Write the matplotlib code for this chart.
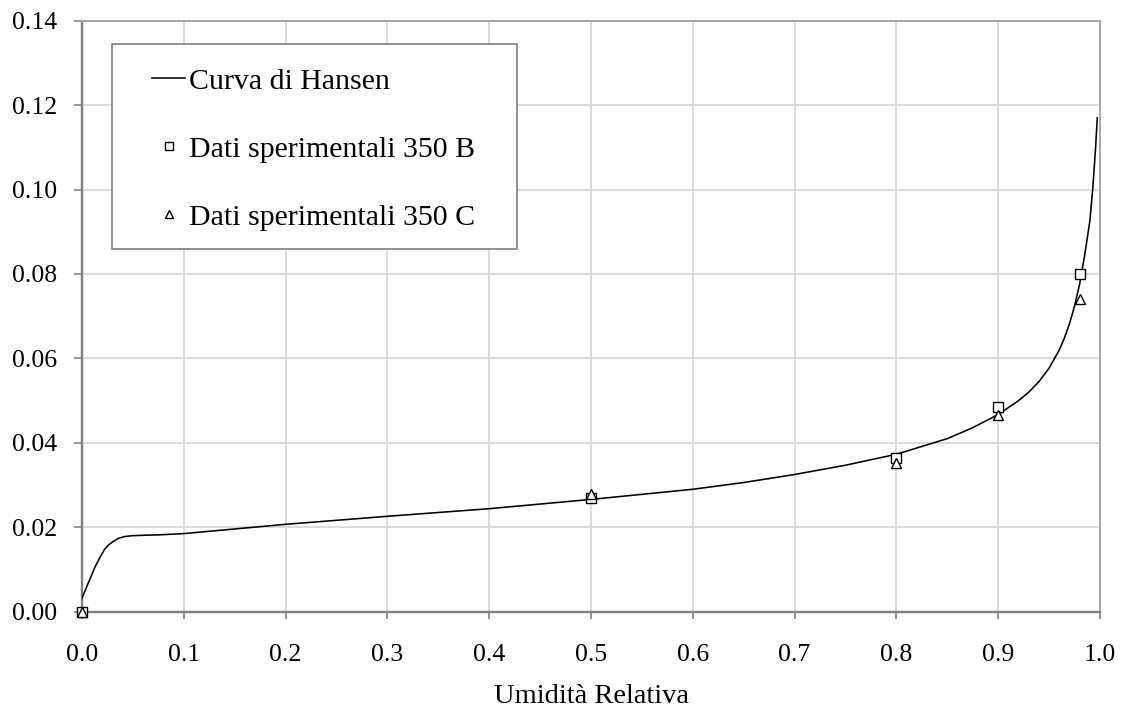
import matplotlib
matplotlib.use("Agg")
import matplotlib.pyplot as plt
from matplotlib.patches import Rectangle

plt.rcParams['font.family'] = ['Liberation Serif', 'DejaVu Serif']

# Hansen sorption curve (relative humidity vs moisture content)
hansen_rh = [0.0, 0.006, 0.013, 0.018, 0.022, 0.026, 0.031, 0.036, 0.042, 0.049, 0.06,
             0.075, 0.1, 0.15, 0.2, 0.3, 0.4, 0.5, 0.6, 0.65, 0.7, 0.75, 0.8, 0.85,
             0.875, 0.9, 0.92, 0.93, 0.94, 0.95, 0.96, 0.965, 0.97, 0.975, 0.98, 0.985, 0.99,
             0.993, 0.9957, 0.9973]
hansen_u = [0.0032, 0.0067, 0.0107, 0.0130, 0.0147, 0.0158, 0.0167, 0.0174, 0.0178, 0.0180, 0.0181,
            0.0182, 0.0185, 0.0196, 0.0207, 0.0226, 0.0244, 0.0266, 0.0290, 0.0306, 0.0325, 0.0347,
            0.0373, 0.0410, 0.0436, 0.0467, 0.0500, 0.0520, 0.0545, 0.0577, 0.0620, 0.0648, 0.0682,
            0.0724, 0.0776, 0.0845, 0.0925, 0.1005, 0.1100, 0.1170]

# Experimental points
exp_rh = [0.0, 0.5, 0.8, 0.9, 0.98]
exp_350B = [0.0, 0.0270, 0.0365, 0.0484, 0.0800]
exp_350C = [0.0, 0.0280, 0.0352, 0.0466, 0.0741]

x_ticks = [0.0, 0.1, 0.2, 0.3, 0.4, 0.5, 0.6, 0.7, 0.8, 0.9, 1.0]
y_ticks = [0.00, 0.02, 0.04, 0.06, 0.08, 0.10, 0.12, 0.14]

W, H = 1125, 708
fig = plt.figure(figsize=(W / 100, H / 100), dpi=100)
ax = fig.add_axes([82 / W, 1 - 611.7 / H, 1018 / W, 591 / H])

ax.plot(hansen_rh, hansen_u, color='black', lw=1.15, label='Curva di Hansen', zorder=3)
ax.plot(exp_rh, exp_350B, ls='none', marker='s', ms=7.5, mfc='white', mec='black',
        mew=1.0, label='Dati sperimentali 350 B', zorder=4, clip_on=False)
ax.plot(exp_rh, exp_350C, ls='none', marker='^', ms=7.5, mfc='white', mec='black',
        mew=1.0, label='Dati sperimentali 350 C', zorder=4, clip_on=False)

ax.set_xlim(0, 1.0)
ax.set_ylim(0, 0.14)
ax.set_xticks(x_ticks)
ax.set_yticks(y_ticks)
ax.set_xticklabels([f"{t:.1f}" for t in x_ticks])
ax.set_yticklabels([f"{t:.2f}" for t in y_ticks])
ax.grid(True, color='#d9d9d9', lw=1.3, zorder=0)
ax.set_axisbelow(True)

for side in ('left', 'bottom'):
    ax.spines[side].set_color('#808080')
    ax.spines[side].set_linewidth(1.7)
for side in ('top', 'right'):
    ax.spines[side].set_color('#a6a6a6')
    ax.spines[side].set_linewidth(1.4)

ax.tick_params(axis='x', direction='out', length=5, width=1.2, color='#808080',
               labelsize=18.5, pad=18)
ax.tick_params(axis='y', direction='out', length=6, width=1.2, color='#808080',
               labelsize=18.5, pad=12)
ax.set_xlabel('Umidità Relativa', fontsize=20.5, labelpad=13)

# Legend box drawn as a plain rectangle, entries placed inside it
ax.add_patch(Rectangle((112 / W, 1 - 249 / H), 405 / W, 205 / H,
                       transform=fig.transFigure, facecolor='white',
                       edgecolor='#808080', lw=1.2, zorder=5, clip_on=False))
leg = ax.legend(loc='upper left', bbox_to_anchor=(152 / W, 1 - 68 / H),
                bbox_transform=fig.transFigure, fontsize=21.5, frameon=False,
                handlelength=1.12, handletextpad=0.12, labelspacing=1.37,
                borderpad=0, borderaxespad=0, markerscale=0.8)
leg.set_zorder(6)

fig.savefig('out.png', dpi=100)
